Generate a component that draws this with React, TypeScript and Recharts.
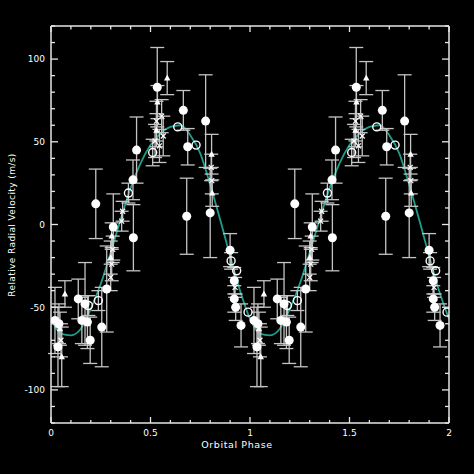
import React from 'react';
import { ComposedChart, Line, Scatter, XAxis, YAxis, ErrorBar } from 'recharts';

// [phase, velocity, error]
const FILLED: [number, number, number][] = [
  [0.02, -58, 20], [0.035, -74, 24], [0.04, -60, 12], [0.137, -45, 12], [0.171, -48, 25],
  [0.155, -58, 14], [0.183, -59, 16], [0.197, -70, 14], [0.225, 12.5, 21], [0.255, -62, 24],
  [0.28, -39, 26], [0.313, -1.5, 20], [0.414, -8, 20], [0.412, 27, 12], [0.43, 45, 20],
  [0.534, 83, 24], [0.665, 69, 12], [0.687, 47, 11], [0.682, 5, 23], [0.777, 62.5, 28],
  [0.8, 7, 27], [0.9, -15.5, 10], [0.921, -34, 8], [0.921, -45, 8], [0.928, -50, 8],
  [0.955, -61, 13],
];
const OPEN: [number, number, number][] = [
  [0.188, -49, 6], [0.238, -46, 6], [0.389, 19, 6], [0.511, 43.5, 8], [0.637, 59, 0],
  [0.729, 48, 0], [0.905, -22, 5], [0.933, -28, 0], [0.99, -53, 0],
];
const TRI: [number, number, number][] = [
  [0.054, -80, 18], [0.07, -42, 8], [0.045, -63, 10], [0.584, 88.5, 10], [0.535, 74, 10],
  [0.807, 42.5, 12], [0.81, 19, 8], [0.305, -7, 8], [0.3, -20, 10], [0.53, 57, 10],
];
const CROSS: [number, number, number][] = [
  [0.05, -70, 10], [0.31, -15, 8], [0.305, -24, 10], [0.3, -32, 8], [0.53, 62.5, 12],
  [0.556, 65.5, 10], [0.564, 53.5, 12], [0.523, 50.5, 10], [0.545, 47.5, 10], [0.805, 34.5, 8],
  [0.808, 26.5, 8], [0.925, -38, 6], [0.355, 2, 6], [0.36, 8, 6],
];

const CURVE_PHASE = [0, 0.05, 0.1, 0.15, 0.2, 0.25, 0.3, 0.35, 0.4, 0.45, 0.5, 0.55, 0.6, 0.65, 0.7, 0.75, 0.8, 0.85, 0.9, 0.95];
const CURVE_VEL = [-57, -66, -67, -63, -51, -36, -17, 3, 22, 37, 48, 55, 59, 60, 54, 43, 24, 3, -19, -40];

const X_TICKS = [0, 0.1, 0.2, 0.3, 0.4, 0.5, 0.6, 0.7, 0.8, 0.9, 1, 1.1, 1.2, 1.3, 1.4, 1.5, 1.6, 1.7, 1.8, 1.9, 2];
const X_LABELS = [0, 0.5, 1, 1.5, 2];
const Y_TICKS = [-120, -110, -100, -90, -80, -70, -60, -50, -40, -30, -20, -10, 0, 10, 20, 30, 40, 50, 60, 70, 80, 90, 100, 110, 120];
const Y_LABELS = [-100, -50, 0, 50, 100];

const toPts = (arr: [number, number, number][]) => {
  const base = arr.map(([x, y, err]) => ({ x, y, err }));
  return [...base, ...base.map((p) => ({ ...p, x: p.x + 1 }))];
};

const curveBase = CURVE_PHASE.map((p, i) => ({ x: p, y: CURVE_VEL[i] }));
const curveData = [...curveBase, ...curveBase.map((p) => ({ ...p, x: p.x + 1 })), { x: 2, y: CURVE_VEL[0] }];

const AX = '#e6e6e6';
const ERR = '#c4c4c4';
const TEAL = '#1f9e8c';
const FONT = '"DejaVu Sans", sans-serif';

const isIn = (v: number, arr: number[]) => arr.some((a) => Math.abs(a - v) < 1e-6);

const BottomTick = (props: any) => {
  const { x, y, payload } = props;
  const major = isIn(payload.value, X_LABELS);
  return (
    <g>
      <line x1={x} x2={x} y1={y} y2={y - (major ? 6 : 3)} stroke={AX} strokeWidth={1.3} />
      {major && (
        <text x={x} y={y + 13} fill="#fff" fontSize={9} fontFamily={FONT} textAnchor="middle">
          {String(payload.value)}
        </text>
      )}
    </g>
  );
};
const TopTick = (props: any) => {
  const { x, y, payload } = props;
  const major = isIn(payload.value, X_LABELS);
  return <line x1={x} x2={x} y1={y} y2={y + (major ? 6 : 3.5)} stroke={AX} strokeWidth={1.3} />;
};
const LeftTick = (props: any) => {
  const { x, y, payload } = props;
  const major = isIn(payload.value, Y_LABELS);
  return (
    <g>
      <line x1={x} x2={x + (major ? 7 : 4)} y1={y} y2={y} stroke={AX} strokeWidth={1.3} />
      {major && (
        <text x={x - 6} y={y + 3.3} fill="#fff" fontSize={9} fontFamily={FONT} textAnchor="end">
          {String(payload.value)}
        </text>
      )}
    </g>
  );
};
const RightTick = (props: any) => {
  const { x, y, payload } = props;
  const major = isIn(payload.value, Y_LABELS);
  return <line x1={x} x2={x - (major ? 7 : 4)} y1={y} y2={y} stroke={AX} strokeWidth={1.3} />;
};

const FilledShape = (p: any) => <circle cx={p.cx} cy={p.cy} r={4.5} fill="#fff" />;
const OpenShape = (p: any) => <circle cx={p.cx} cy={p.cy} r={4} fill="none" stroke="#fff" strokeWidth={1.4} />;
const TriShape = (p: any) => (
  <polygon
    points={`${p.cx},${p.cy - 3.5} ${p.cx - 3.2},${p.cy + 2.5} ${p.cx + 3.2},${p.cy + 2.5}`}
    fill="#fff"
  />
);
const CrossShape = (p: any) => (
  <g stroke="#fff" strokeWidth={1.2}>
    <line x1={p.cx - 2.5} y1={p.cy - 2.5} x2={p.cx + 2.5} y2={p.cy + 2.5} />
    <line x1={p.cx - 2.5} y1={p.cy + 2.5} x2={p.cx + 2.5} y2={p.cy - 2.5} />
  </g>
);

const series: { name: string; data: [number, number, number][]; shape: any }[] = [
  { name: 'cross', data: CROSS, shape: CrossShape },
  { name: 'tri', data: TRI, shape: TriShape },
  { name: 'open', data: OPEN, shape: OpenShape },
  { name: 'filled', data: FILLED, shape: FilledShape },
];

export default function App() {
  return (
    <div style={{ position: 'absolute', left: 0, top: 0, width: 474, height: 474, background: '#000', overflow: 'hidden' }}>
      <ComposedChart width={474} height={474} margin={{ top: 0, right: 0, bottom: 0, left: 0 }}>
        <XAxis
          xAxisId="b"
          type="number"
          dataKey="x"
          domain={[0, 2]}
          ticks={X_TICKS}
          interval={0}
          height={51}
          tickSize={0}
          tickMargin={0}
          tickLine={false}
          axisLine={{ stroke: AX, strokeWidth: 1.5 }}
          tick={<BottomTick />}
          allowDataOverflow
        />
        <XAxis
          xAxisId="t"
          orientation="top"
          type="number"
          dataKey="x"
          domain={[0, 2]}
          ticks={X_TICKS}
          interval={0}
          height={26}
          tickSize={0}
          tickMargin={0}
          tickLine={false}
          axisLine={{ stroke: AX, strokeWidth: 1.5 }}
          tick={<TopTick />}
          allowDataOverflow
        />
        <YAxis
          yAxisId="l"
          type="number"
          domain={[-120, 120]}
          ticks={Y_TICKS}
          interval={0}
          width={51}
          tickSize={0}
          tickMargin={0}
          tickLine={false}
          axisLine={{ stroke: AX, strokeWidth: 1.5 }}
          tick={<LeftTick />}
          allowDataOverflow
        />
        <YAxis
          yAxisId="r"
          orientation="right"
          type="number"
          domain={[-120, 120]}
          ticks={Y_TICKS}
          interval={0}
          width={25}
          tickSize={0}
          tickMargin={0}
          tickLine={false}
          axisLine={{ stroke: AX, strokeWidth: 1.5 }}
          tick={<RightTick />}
          allowDataOverflow
        />
        <Line
          xAxisId="b"
          yAxisId="l"
          data={curveData}
          dataKey="y"
          type="monotone"
          stroke={TEAL}
          strokeWidth={1.8}
          dot={false}
          isAnimationActive={false}
        />
        {series.map((s) => (
          <Scatter
            key={s.name}
            xAxisId="b"
            yAxisId="l"
            data={toPts(s.data)}
            dataKey="y"
            shape={s.shape}
            isAnimationActive={false}
          >
            <ErrorBar dataKey="err" direction="y" width={7} stroke={ERR} strokeWidth={1.3} />
          </Scatter>
        ))}
      </ComposedChart>
      <div
        style={{
          position: 'absolute',
          left: 187,
          top: 439,
          width: 100,
          textAlign: 'center',
          color: '#fff',
          fontFamily: FONT,
          fontSize: 9.5,
          letterSpacing: 0.6,
          lineHeight: '12px',
        }}
      >
        Orbital Phase
      </div>
      <div
        style={{
          position: 'absolute',
          left: 11.5 - 100,
          top: 224.5 - 6,
          width: 200,
          textAlign: 'center',
          color: '#fff',
          fontFamily: FONT,
          fontSize: 9,
          letterSpacing: 0.4,
          lineHeight: '12px',
          transform: 'rotate(-90deg)',
          whiteSpace: 'nowrap',
        }}
      >
        Relative Radial Velocity (m/s)
      </div>
    </div>
  );
}
